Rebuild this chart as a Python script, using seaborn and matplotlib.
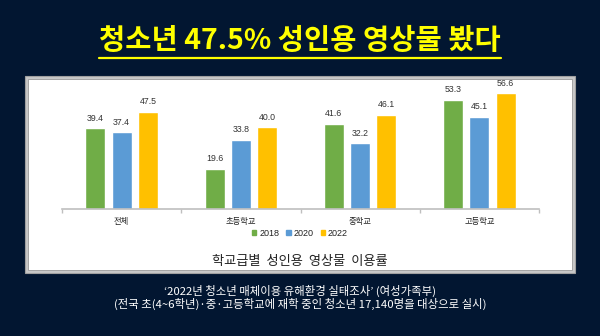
import matplotlib
matplotlib.use("Agg")
import matplotlib.pyplot as plt
from matplotlib.patches import Rectangle
import seaborn as sns
import pandas as pd

# School levels and usage rates (%) per survey year
levels = ["전체", "초등학교", "중학교", "고등학교"]
years = ["2018", "2020", "2022"]
rate_2018 = [39.4, 19.6, 41.6, 53.3]
rate_2020 = [37.4, 33.8, 32.2, 45.1]
rate_2022 = [47.5, 40.0, 46.1, 56.6]

title = "청소년 47.5% 성인용 영상물 봤다"
subtitle = "학교급별  성인용  영상물  이용률"
source_lines = [
    "‘2022년 청소년 매체이용 유해환경 실태조사’ (여성가족부)",
    "(전국 초(4~6학년)·중·고등학교에 재학 중인 청소년 17,140명을 대상으로 실시)",
]

df = pd.DataFrame({
    "level": levels * 3,
    "year": [y for y in years for _ in levels],
    "rate": rate_2018 + rate_2020 + rate_2022,
})

sns.set_theme(style="white")
plt.rcParams["font.family"] = ["Noto Sans CJK KR", "DejaVu Sans"]

W, H = 600, 336
NAVY = "#021631"
fig = plt.figure(figsize=(W / 100, H / 100), dpi=100, facecolor=NAVY)

def fx(px):
    return px / W

def fy(py):
    return 1 - py / H

# white card behind the chart, with a grey double frame
fig.patches.append(Rectangle((fx(25), fy(273)), fx(550), 197 / H,
                             transform=fig.transFigure, facecolor="#c8c8c8",
                             edgecolor="#a0a0a0", lw=0.8, zorder=-3))
fig.patches.append(Rectangle((fx(28), fy(270)), fx(544), 191 / H,
                             transform=fig.transFigure, facecolor="white",
                             edgecolor="#9a9a9a", lw=0.6, zorder=-2))

ax = fig.add_axes([fx(62), fy(209), fx(477), (209 - 80) / H])
ax.set_facecolor("none")
ax.set_zorder(1)
palette = {"2018": "#70AD47", "2020": "#5B9BD5", "2022": "#FFC000"}
sns.barplot(data=df, x="level", y="rate", hue="year", order=levels,
            hue_order=years, palette=palette, width=0.66, gap=0.23,
            saturation=1, ax=ax, legend=False)

for cont in ax.containers:
    ax.bar_label(cont, fmt="%.1f", padding=4, fontsize=6.3, color="#333333",
                 family="Liberation Sans")

ax.set_ylim(0, 63)
ax.set_xlim(-0.5, len(levels) - 0.5)
ax.set_xlabel("")
ax.set_ylabel("")
ax.set_yticks([])
for s in ["top", "left", "right"]:
    ax.spines[s].set_visible(False)
ax.spines["bottom"].set_color("#bfbfbf")
ax.spines["bottom"].set_linewidth(1.2)
ax.set_xticks(range(len(levels)))
ax.set_xticklabels(levels, fontsize=6, color="#222222")
ax.set_xticks([i - 0.5 for i in range(len(levels) + 1)], minor=True)
ax.tick_params(axis="x", which="major", length=0, pad=6)
ax.tick_params(axis="x", which="minor", length=3, color="#bfbfbf", width=1,
               bottom=True)

# legend under the axis
handles = [Rectangle((0, 0), 1, 1, color=palette[y]) for y in years]
fig.legend(handles, years, loc="center", bbox_to_anchor=(fx(300), fy(233)),
           ncol=3, frameon=False, prop={"family": "Liberation Sans", "size": 6.5},
           handlelength=0.5, handleheight=0.5, handletextpad=0.3,
           columnspacing=0.8, labelcolor="#222222")

fig.text(fx(300), fy(262), subtitle, ha="center", va="center", fontsize=9.5,
         color="#222222")

t = fig.text(fx(300), fy(41), title, ha="center", va="center", fontsize=20.5,
             fontweight="bold", color="#FFFF00")
fig.canvas.draw()
bb = t.get_window_extent()
fig.add_artist(plt.Line2D([bb.x0 / W, bb.x1 / W], [fy(58), fy(58)],
                          transform=fig.transFigure, color="#FFFF00", lw=1.6))

fig.text(fx(300), fy(291), source_lines[0], ha="center", va="center",
         fontsize=8.2, fontweight="medium", color="white")
fig.text(fx(300), fy(304), source_lines[1], ha="center", va="center",
         fontsize=8.2, fontweight="medium", color="white")

fig.savefig("out.png", dpi=100, facecolor=NAVY)
